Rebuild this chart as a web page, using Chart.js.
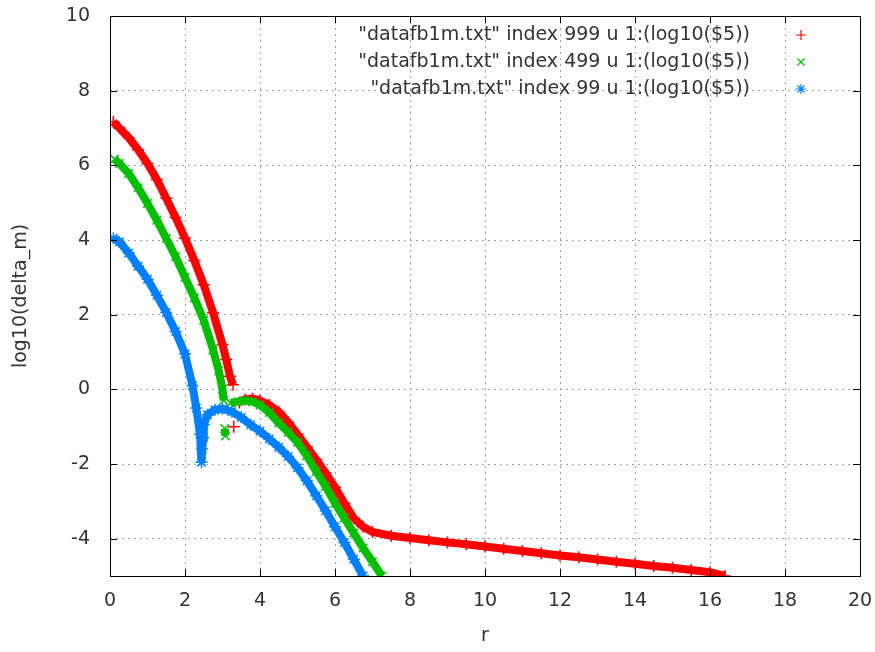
<!DOCTYPE html>
<html>
<head>
<meta charset="utf-8">
<script src="https://cdn.jsdelivr.net/npm/chart.js@4.4.0/dist/chart.umd.min.js"></script>
<style>
  html, body { margin: 0; padding: 0; background: #fff; }
  #main-chart { display: block; }
</style>
</head>
<body>
<canvas id="main-chart" width="875" height="652"></canvas>
<script>
const seriesLabels = [
  '"datafb1m.txt" index 999 u 1:(log10($5))',
  '"datafb1m.txt" index 499 u 1:(log10($5))',
  '"datafb1m.txt" index 99 u 1:(log10($5))',
];

// index 999 (null = gap in the curve)
const redX = [0.09, 0.25, 0.5, 0.75, 1.0, 1.25, 1.5, 1.75, 2.0, 2.25, 2.5, 2.75, 3.0, 3.1, 3.2, 3.28, null, 3.3, null,
  3.45, 3.6, 3.8, 4.0, 4.25, 4.5, 4.75, 5.0, 5.25, 5.5, 5.75, 6.0, 6.25, 6.5, 6.75, 7.0, 7.5, 8.0, 8.5, 9.0, 9.5,
  10.0, 10.5, 11.0, 11.5, 12.0, 12.5, 13.0, 13.5, 14.0, 14.5, 15.0, 15.5, 16.0, 16.4];
const redY = [7.17, 7.0, 6.74, 6.42, 6.05, 5.62, 5.12, 4.6, 4.05, 3.45, 2.8, 2.05, 1.2, 0.8, 0.35, 0.12, null, -1.0, null,
  -0.35, -0.27, -0.25, -0.3, -0.42, -0.6, -0.88, -1.2, -1.54, -1.88, -2.24, -2.62, -3.05, -3.45, -3.68, -3.82, -3.92, -3.98, -4.04, -4.1, -4.15,
  -4.21, -4.27, -4.33, -4.39, -4.45, -4.5, -4.56, -4.62, -4.67, -4.73, -4.78, -4.84, -4.9, -5.0];

// index 499
const greenX = [0.12, 0.25, 0.5, 0.75, 1.0, 1.25, 1.5, 1.75, 2.0, 2.25, 2.5, 2.75, 2.9, 3.0, 3.03, null, 3.06, 3.08, null,
  3.22, 3.4, 3.6, 3.8, 4.0, 4.25, 4.5, 4.75, 5.0, 5.25, 5.5, 5.75, 6.0, 6.25, 6.5, 6.75, 7.0, 7.25];
const greenY = [6.17, 6.05, 5.78, 5.4, 4.98, 4.53, 4.04, 3.55, 3.0, 2.45, 1.85, 1.05, 0.5, 0.0, -0.3, null, -1.05, -1.25, null,
  -0.37, -0.33, -0.3, -0.33, -0.42, -0.62, -0.9, -1.15, -1.42, -1.78, -2.2, -2.6, -3.05, -3.45, -3.85, -4.25, -4.62, -5.0];

// index 99
const blueX = [0.09, 0.25, 0.5, 0.75, 1.0, 1.25, 1.5, 1.75, 2.0, 2.2, 2.3, 2.4, 2.44, 2.46, 2.48, 2.5, 2.6, 2.8, 3.0,
  3.25, 3.5, 3.75, 4.0, 4.25, 4.5, 4.75, 5.0, 5.25, 5.5, 5.75, 6.0, 6.25, 6.5, 6.75];
const blueY = [4.05, 3.95, 3.65, 3.3, 2.95, 2.52, 2.06, 1.55, 0.95, 0.1, -0.5, -1.2, -1.95, -1.6, -1.3, -0.95, -0.68, -0.55, -0.52,
  -0.6, -0.75, -0.95, -1.12, -1.33, -1.55, -1.8, -2.1, -2.45, -2.85, -3.25, -3.68, -4.1, -4.55, -5.0];

const xTicks = [0, 2, 4, 6, 8, 10, 12, 14, 16, 18, 20];
const yTicks = [-4, -2, 0, 2, 4, 6, 8, 10];

const textColor = '#333333';
const fontFamily = '"DejaVu Sans", sans-serif';

const toPoints = (xs, ys) => xs.map((x, i) => ({ x: x, y: ys[i] }));

// gnuplot style frame with inward ticks on all four sides
const framePlugin = {
  id: 'frame',
  afterDatasetsDraw(chart) {
    const { ctx, chartArea: a, scales } = chart;
    const tick = 7;
    ctx.save();
    ctx.strokeStyle = '#000000';
    ctx.lineWidth = 1;
    ctx.beginPath();
    xTicks.forEach((v) => {
      const px = Math.round(scales.x.getPixelForValue(v)) + 0.5;
      ctx.moveTo(px, a.bottom);
      ctx.lineTo(px, a.bottom - tick);
      ctx.moveTo(px, a.top);
      ctx.lineTo(px, a.top + tick);
    });
    yTicks.forEach((v) => {
      const py = Math.round(scales.y.getPixelForValue(v)) + 0.5;
      ctx.moveTo(a.left, py);
      ctx.lineTo(a.left + tick, py);
      ctx.moveTo(a.right, py);
      ctx.lineTo(a.right - tick, py);
    });
    ctx.stroke();
    ctx.strokeRect(a.left + 0.5, a.top + 0.5, a.right - a.left, a.bottom - a.top);
    ctx.restore();
  },
};

// key in the top right corner: text right aligned, marker on the right
const keyPlugin = {
  id: 'key',
  afterDraw(chart) {
    const { ctx } = chart;
    ctx.save();
    ctx.font = '19px ' + fontFamily;
    ctx.textAlign = 'right';
    ctx.textBaseline = 'middle';
    chart.data.datasets.forEach((ds, i) => {
      const y = 35 + i * 27;
      ctx.fillStyle = textColor;
      ctx.fillText(ds.label, 750, y);
      ctx.strokeStyle = ds.borderColor;
      ctx.lineWidth = 1.2;
      Chart.helpers.drawPoint(ctx, { pointStyle: ds.pointStyle, radius: 5, borderWidth: 1.2, rotation: 0 }, 801, y);
    });
    ctx.restore();
  },
};

const makeSeries = (label, xs, ys, color, style, order) => ({
  label: label,
  data: toPoints(xs, ys),
  showLine: true,
  spanGaps: false,
  borderColor: color,
  backgroundColor: color,
  borderWidth: 8,
  pointStyle: style,
  pointRadius: 6,
  pointBorderWidth: 1.5,
  pointBorderColor: color,
  order: order,
});

Chart.defaults.font.family = fontFamily;
Chart.defaults.font.size = 19;
Chart.defaults.color = textColor;

const ctx = document.getElementById('main-chart');
const mainChart = new Chart(ctx, {
  type: 'scatter',
  data: {
    datasets: [
      makeSeries(seriesLabels[0], redX, redY, '#ff0000', 'cross', 2),
      makeSeries(seriesLabels[1], greenX, greenY, '#00c000', 'crossRot', 1),
      makeSeries(seriesLabels[2], blueX, blueY, '#0080ff', 'star', 0),
    ],
  },
  options: {
    responsive: false,
    animation: false,
    layout: { padding: { top: 16, right: 15, left: 0, bottom: 0 } },
    plugins: {
      legend: { display: false },
      tooltip: { enabled: false },
    },
    scales: {
      x: {
        type: 'linear',
        min: 0,
        max: 20,
        afterBuildTicks: (scale) => { scale.ticks = xTicks.map((v) => ({ value: v })); },
        afterFit: (scale) => {
          scale.height = 76;
          scale.paddingLeft = 0;
          scale.paddingRight = 0;
        },
        grid: { color: '#a0a0a0', lineWidth: 1, drawTicks: false },
        border: { display: false, dash: [2, 4] },
        ticks: { padding: 14, color: textColor, maxRotation: 0 },
        title: { display: true, text: 'r', color: textColor, padding: { top: 0, bottom: 5 } },
      },
      y: {
        type: 'linear',
        min: -5,
        max: 10,
        afterBuildTicks: (scale) => { scale.ticks = yTicks.map((v) => ({ value: v })); },
        afterFit: (scale) => {
          scale.width = 110;
          scale.paddingTop = 0;
          scale.paddingBottom = 0;
        },
        grid: { color: '#a0a0a0', lineWidth: 1, drawTicks: false },
        border: { display: false, dash: [2, 4] },
        ticks: { padding: 20, color: textColor },
        title: { display: true, text: 'log10(delta_m)', color: textColor, padding: { top: 10, bottom: 0 } },
      },
    },
  },
  plugins: [framePlugin, keyPlugin],
});
</script>
</body>
</html>
